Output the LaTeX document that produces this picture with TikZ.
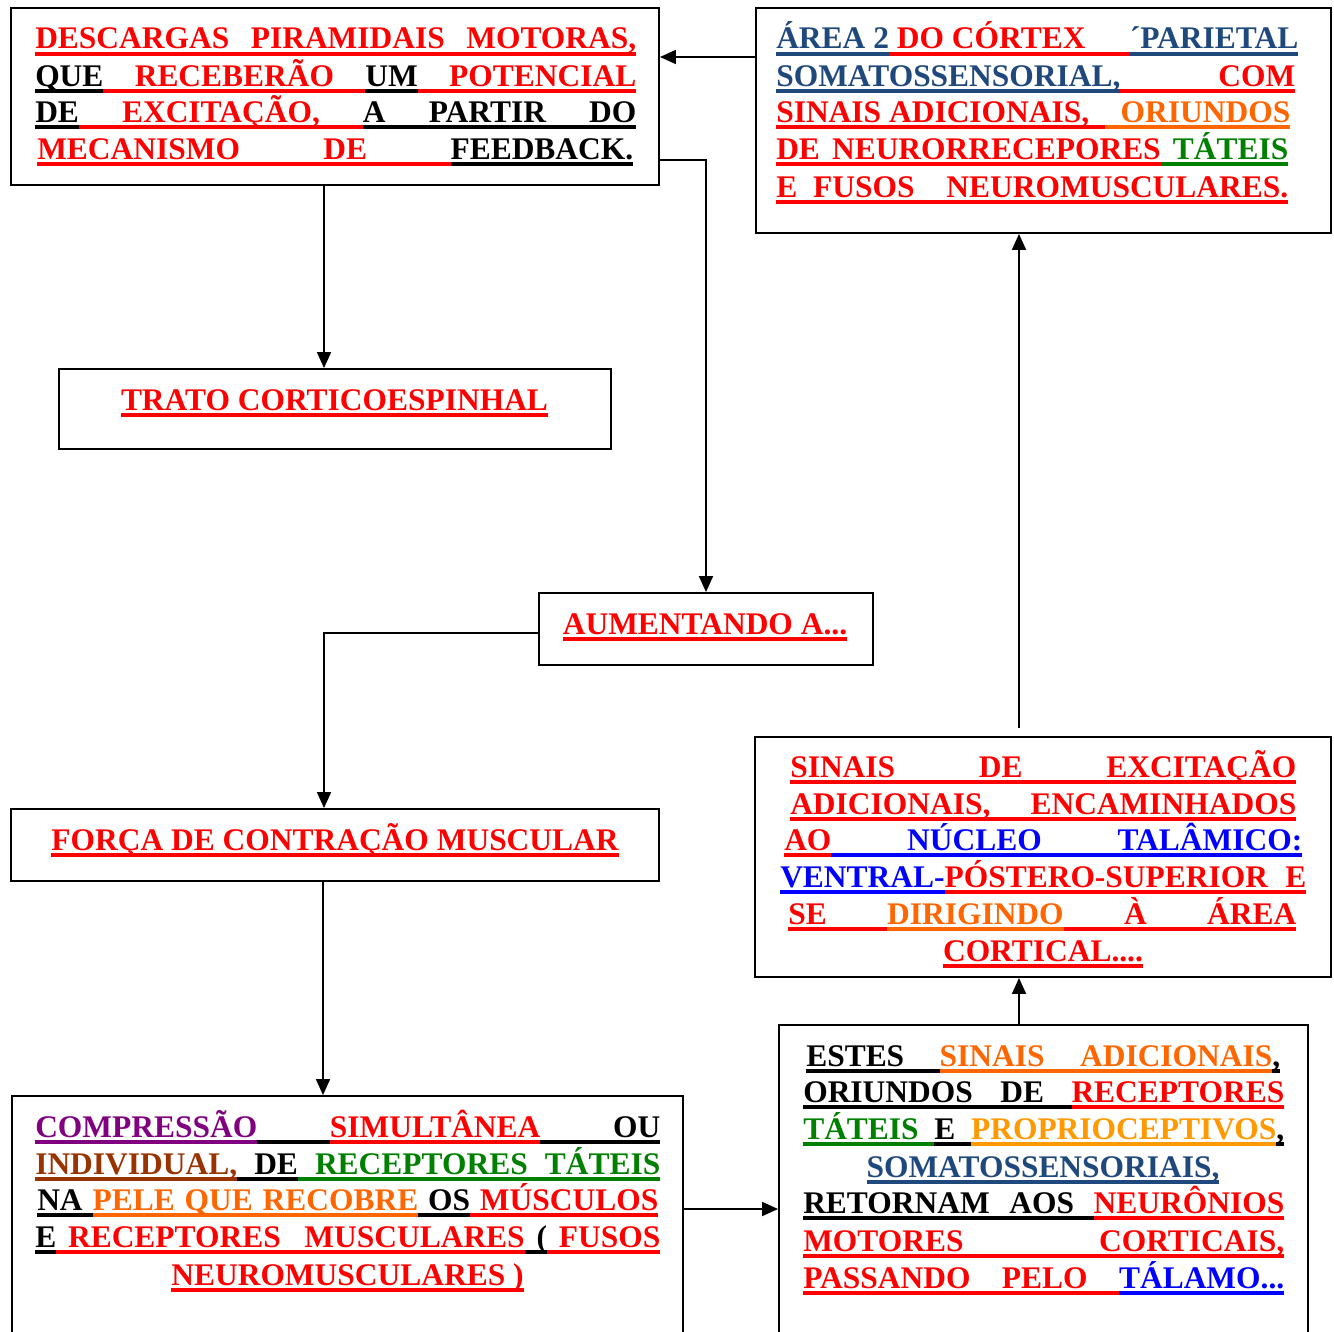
\documentclass[tikz,border=0pt]{standalone}
\usepackage{fontspec}
\setmainfont{Liberation Serif}
\usetikzlibrary{arrows.meta}
\definecolor{dred}{HTML}{FF0000}
\definecolor{dblue}{HTML}{1F497D}
\definecolor{orng}{HTML}{FF6600}
\definecolor{lorng}{HTML}{FF9900}
\definecolor{grn}{HTML}{008000}
\definecolor{blu}{HTML}{0000FF}
\definecolor{purp}{HTML}{800080}
\definecolor{brwn}{HTML}{993300}
\newdimen\pxu \pxu=0.75pt
\def\Rst{1}
\newcommand\Uw[2]{{\color{#1}\setbox0=\hbox{#2}\rlap{\vrule width\wd0 height -2.3pt depth 5pt}\box0}}
\newcommand\Us[2][\Rst]{{\color{#2}\leaders\hrule height -2.3pt depth 5pt\hskip .25em plus #1fil minus .05em}}
\makeatletter
\newcommand\Wr[2]{\def\Wr@c{#1}\Wr@s#2 \Wr@e}
\def\Wr@s#1 #2\Wr@e{\Uw{\Wr@c}{#1}\ifx\relax#2\relax\else\Us{\Wr@c}\Wr@s#2\Wr@e\fi}
\makeatother
\tikzset{
  box/.style={draw, line width=1.4pt, inner sep=0pt},
  txt/.style={inner sep=0pt, anchor=base west, font=\bfseries\fontsize{23.6}{28}\selectfont},
  ctxt/.style={txt, anchor=base},
  arr/.style={-{Triangle[length=12pt,width=10.5pt]}, line width=1.3pt}
}
\begin{document}
\begin{tikzpicture}[x=0.75pt, y=-0.75pt]
\useasboundingbox (0,0) rectangle (1334,1331);
\clip (0,0) rectangle (1334,1331);
\fill[white] (0,0) rectangle (1334,1331);

% boxes
\node[box, minimum width=648\pxu, minimum height=177\pxu] (A) at (335,96.5) {};
\node[box, minimum width=575\pxu, minimum height=225\pxu] (B) at (1043.5,120.5) {};
\node[box, minimum width=552\pxu, minimum height=80\pxu] (C) at (335,409) {};
\node[box, minimum width=334\pxu, minimum height=72\pxu] (D) at (706,629) {};
\node[box, minimum width=648\pxu, minimum height=72\pxu] (E) at (335,845) {};
\node[box, minimum width=576\pxu, minimum height=240\pxu] (F) at (1043,857) {};
\node[box, minimum width=671\pxu, minimum height=264\pxu] (G) at (347.5,1228) {};
\node[box, minimum width=529\pxu, minimum height=335\pxu] (H) at (1043.5,1192.5) {};

% box A text
\node[txt] (a1) at (35,49) {\makebox[601\pxu][s]{\Wr{dred}{DESCARGAS PIRAMIDAIS MOTORAS,}}};
\node[txt] (a2) at (35,86) {\makebox[601\pxu][s]{\Wr{black}{QUE}\Us{dred}\Wr{dred}{RECEBERÃO}\Us{dred}\Wr{black}{UM}\Us{dred}\Wr{dred}{POTENCIAL}}};
\node[txt] (a3) at (35,122) {\makebox[601\pxu][s]{\Wr{black}{DE}\Us{dred}\Wr{dred}{EXCITAÇÃO,}\Us{dred}\Wr{black}{A PARTIR DO}}};
\node[txt] (a4) at (37,159) {\makebox[596\pxu][s]{\Wr{dred}{MECANISMO DE}\Us{dred}\Wr{black}{FEEDBACK.}}};

% box B text
\node[txt] (b1) at (776,49) {\makebox[522\pxu][s]{{\def\Rst{0}\Wr{dblue}{ÁREA 2}\Us{dred}\Wr{dred}{DO CÓRTEX}}\Us{dred}\Us{dred}\Wr{dblue}{´PARIETAL}}};
\node[txt] (b2) at (776,86) {\makebox[519\pxu][s]{\Wr{dblue}{SOMATOSSENSORIAL,}\Us{dred}\Wr{dred}{COM}}};
\node[txt] (b3) at (776,122) {\makebox[514\pxu][s]{{\def\Rst{0}\Wr{dred}{SINAIS ADICIONAIS,}}\Us{dred}\Us{orng}\Wr{orng}{ORIUNDOS}}};
\node[txt] (b4) at (776,159) {\makebox[512\pxu][s]{\Wr{dred}{DE NEURORRECEPORES}\Us{grn}\Wr{grn}{TÁTEIS}}};
\node[txt] (b5) at (776,197) {\makebox[512\pxu][s]{\Wr{dred}{E FUSOS}\Us{dred}\Us{dred}\Wr{dred}{NEUROMUSCULARES.}}};

% single-line boxes
\node[ctxt] (c1) at (334.5,410) {\Wr{dred}{TRATO CORTICOESPINHAL}};
\node[ctxt] (d1) at (705,634) {\Wr{dred}{AUMENTANDO A...}};
\node[ctxt] (e1) at (335,850) {\Wr{dred}{FORÇA DE CONTRAÇÃO MUSCULAR}};

% box F text
\node[txt] (f1) at (790,777) {\makebox[506\pxu][s]{\Wr{dred}{SINAIS DE EXCITAÇÃO}}};
\node[txt] (f2) at (790,814) {\makebox[506\pxu][s]{\Wr{dred}{ADICIONAIS, ENCAMINHADOS}}};
\node[txt] (f3) at (784,850) {\makebox[518\pxu][s]{\Wr{dred}{AO}\Us{blu}\Wr{blu}{NÚCLEO TALÂMICO:}}};
\node[txt] (f4) at (780,887) {\makebox[526\pxu][s]{\Wr{blu}{VENTRAL-}\Wr{dred}{PÓSTERO-SUPERIOR E}}};
\node[txt] (f5) at (788,924) {\makebox[508\pxu][s]{\Wr{dred}{SE}\Us{dred}\Wr{orng}{DIRIGINDO}\Us{dred}\Wr{dred}{À ÁREA}}};
\node[ctxt] (f6) at (1043,961) {\Wr{dred}{CORTICAL....}};

% box G text
\node[txt] (g1) at (35,1137) {\makebox[625\pxu][s]{\Wr{purp}{COMPRESSÃO}\Us{black}\Wr{dred}{SIMULTÂNEA}\Us{black}\Wr{black}{OU}}};
\node[txt] (g2) at (35,1174) {\makebox[625\pxu][s]{\Wr{brwn}{INDIVIDUAL,}\Us{black}\Wr{black}{DE}\Us{grn}\Wr{grn}{RECEPTORES TÁTEIS}}};
\node[txt] (g3) at (37,1210) {\makebox[621\pxu][s]{\Wr{black}{NA}\Us{black}\Wr{orng}{PELE QUE RECOBRE}\Us{black}\Wr{black}{OS}\Us{dred}\Wr{dred}{MÚSCULOS}}};
\node[txt] (g4) at (35,1247) {\makebox[625\pxu][s]{\Wr{black}{E}\Us{dred}\Wr{dred}{RECEPTORES}\Us{dred}\Us{dred}\Wr{dred}{MUSCULARES}\Us{black}\Wr{black}{(}\Us{dred}\Wr{dred}{FUSOS}}};
\node[ctxt] (g5) at (347.5,1285) {\Wr{dred}{NEUROMUSCULARES )}};

% box H text
\node[txt] (h1) at (806,1066) {\makebox[474\pxu][s]{\Wr{black}{ESTES}\Us{black}\Wr{orng}{SINAIS}\Us{orng}\Wr{orng}{ADICIONAIS}\Wr{black}{,}}};
\node[txt] (h2) at (803,1102) {\makebox[481\pxu][s]{\Wr{black}{ORIUNDOS DE}\Us{black}\Wr{dred}{RECEPTORES}}};
\node[txt] (h3) at (803,1139) {\makebox[481\pxu][s]{\Wr{grn}{TÁTEIS}\Us{grn}\Wr{black}{E}\Us{black}\Wr{lorng}{PROPRIOCEPTIVOS}\Wr{black}{,}}};
\node[ctxt] (h4) at (1043,1177) {\Wr{dblue}{SOMATOSSENSORIAIS,}};
\node[txt] (h5) at (803,1213) {\makebox[481\pxu][s]{\Wr{black}{RETORNAM AOS}\Us{black}\Wr{dred}{NEURÔNIOS}}};
\node[txt] (h6) at (803,1251) {\makebox[481\pxu][s]{\Wr{dred}{MOTORES CORTICAIS,}}};
\node[txt] (h7) at (803,1288) {\makebox[481\pxu][s]{\Wr{dred}{PASSANDO PELO}\Us{dred}\Wr{blu}{TÁLAMO...}}};

% connectors
\coordinate (fu) at (1019,728);
\draw[arr] (324,0 |- A.south) -- (324,0 |- C.north);
\draw[arr] (A.east |- 0,160) -| (D.north);
\draw[arr] (B.west |- 0,57) -- (A.east |- 0,57);
\draw[arr] (D.west |- 0,633) -| (324,0 |- E.north);
\draw[arr] (323,0 |- E.south) -- (323,0 |- G.north);
\draw[arr] (G.east |- 0,1209) -- (H.west |- 0,1209);
\draw[arr] (1019,0 |- H.north) -- (1019,0 |- F.south);
\draw[arr] (fu) -- (1019,0 |- B.south);
\end{tikzpicture}
\end{document}
